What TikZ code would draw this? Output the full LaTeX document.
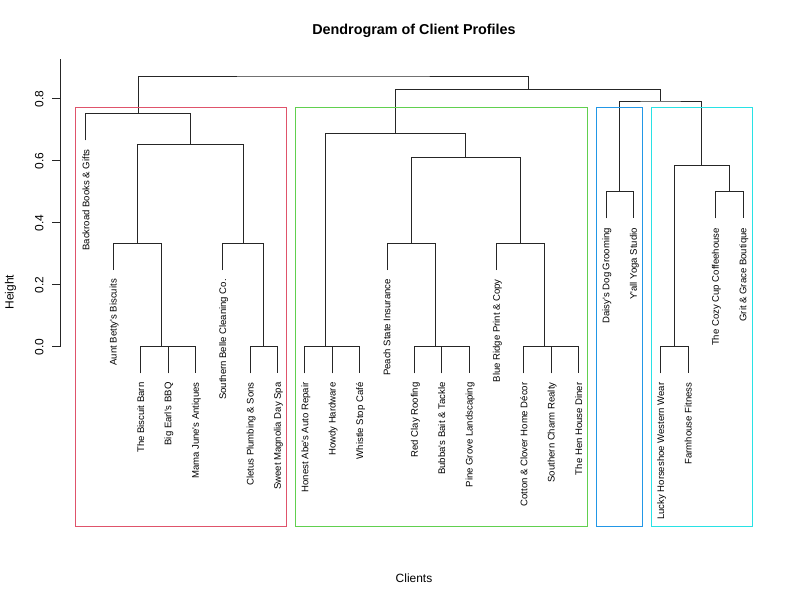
\documentclass[tikz,border=0pt]{standalone}
\usepackage{fontspec}
\setmainfont{Liberation Sans}
\newcommand\aq{\textquotesingle}
\definecolor{rred}{HTML}{DF536B}
\definecolor{rgreen}{HTML}{61D04F}
\definecolor{rblue}{HTML}{2297E6}
\definecolor{rcyan}{HTML}{28E2E5}
\begin{document}
\begin{tikzpicture}[x=1bp,y=-1bp,
  branch/.style={draw=black!85,line width=0.8bp},
  leaflab/.style={rotate=90,anchor=east,inner sep=0pt,text height=6.9bp,text depth=0pt,font=\fontsize{9.6}{10}\selectfont},
  ticklab/.style={rotate=90,anchor=base,inner sep=0pt,font=\fontsize{12}{14}\selectfont},
  axlab/.style={inner sep=0pt,anchor=base,font=\fontsize{12}{14}\selectfont},
  clusterbox/.style={line width=0.8bp}]
\useasboundingbox (0,0) rectangle (800,600);
\fill[white] (0,0) rectangle (800,600);

% title and axis labels
\node[axlab,font=\fontsize{14.4}{16}\selectfont\bfseries] (title) at (414,35) {Dendrogram of Client Profiles};
\node[axlab] (xlab) at (414,582.3) {Clients};
\node[axlab,rotate=90] (ylab) at (13.5,292) {Height};

% y axis
\coordinate (axtop) at (60,59.3);
\coordinate (axbot) at (60,346.7);
\draw[branch] (axtop) -- (axbot);
\foreach \k/\v/\yy in {0/0.0/346.7,2/0.2/284.7,4/0.4/222.7,6/0.6/160.7,8/0.8/98.7}{
  \coordinate (tick\k) at (60,\yy);
  \coordinate (tickl\k) at (52,\yy);
  \draw[branch] (tick\k) -- (tickl\k);
  \node[ticklab] (tk\k) at (43.3,\yy) {\v};
}

% leaf ends
\coordinate (l1) at (85.8,140.3);
\coordinate (l2) at (113.18,270);
\coordinate (l3) at (140.56,373.3);
\coordinate (l4) at (167.94,373.3);
\coordinate (l5) at (195.32,373.3);
\coordinate (l6) at (222.7,270);
\coordinate (l7) at (250.08,373.3);
\coordinate (l8) at (277.46,373.3);
\coordinate (l9) at (304.84,373.3);
\coordinate (l10) at (332.22,373.3);
\coordinate (l11) at (359.6,373.3);
\coordinate (l12) at (386.98,270);
\coordinate (l13) at (414.36,373.3);
\coordinate (l14) at (441.74,373.3);
\coordinate (l15) at (469.12,373.3);
\coordinate (l16) at (496.5,270);
\coordinate (l17) at (523.88,373.3);
\coordinate (l18) at (551.26,373.3);
\coordinate (l19) at (578.64,373.3);
\coordinate (l20) at (606.02,218.3);
\coordinate (l21) at (633.4,218.3);
\coordinate (l22) at (660.78,373.3);
\coordinate (l23) at (688.16,373.3);
\coordinate (l24) at (715.54,218.3);
\coordinate (l25) at (742.92,218.3);

% leaf labels
\node[leaflab] (n1) at (85.8,149.3) {Backroad Books \& Gifts};
\node[leaflab] (n2) at (113.18,279) {Aunt Betty\aq s Biscuits};
\node[leaflab] (n3) at (140.56,382.3) {The Biscuit Barn};
\node[leaflab] (n4) at (167.94,382.3) {Big Earl\aq s BBQ};
\node[leaflab] (n5) at (195.32,382.3) {Mama June\aq s Antiques};
\node[leaflab] (n6) at (222.7,279) {Southern Belle Cleaning Co.};
\node[leaflab] (n7) at (250.08,382.3) {Cletus Plumbing \& Sons};
\node[leaflab] (n8) at (277.46,382.3) {Sweet Magnolia Day Spa};
\node[leaflab] (n9) at (304.84,382.3) {Honest Abe\aq s Auto Repair};
\node[leaflab] (n10) at (332.22,382.3) {Howdy Hardware};
\node[leaflab] (n11) at (359.6,382.3) {Whistle Stop Café};
\node[leaflab] (n12) at (386.98,279) {Peach State Insurance};
\node[leaflab] (n13) at (414.36,382.3) {Red Clay Roofing};
\node[leaflab] (n14) at (441.74,382.3) {Bubba\aq s Bait \& Tackle};
\node[leaflab] (n15) at (469.12,382.3) {Pine Grove Landscaping};
\node[leaflab] (n16) at (496.5,279) {Blue Ridge Print \& Copy};
\node[leaflab] (n17) at (523.88,382.3) {Cotton \& Clover Home Décor};
\node[leaflab] (n18) at (551.26,382.3) {Southern Charm Realty};
\node[leaflab] (n19) at (578.64,382.3) {The Hen House Diner};
\node[leaflab] (n20) at (606.02,227.8) {Daisy\aq s Dog Grooming};
\node[leaflab] (n21) at (633.4,227.8) {Y\aq all Yoga Studio};
\node[leaflab] (n22) at (660.78,382.3) {Lucky Horseshoe Western Wear};
\node[leaflab] (n23) at (688.16,382.3) {Farmhouse Fitness};
\node[leaflab] (n24) at (715.54,227.8) {The Cozy Cup Coffeehouse};
\node[leaflab] (n25) at (742.92,227.8) {Grit \& Grace Boutique};

% merge points
\coordinate (mbm) at (181.63,346.7);
\coordinate (mb3) at (161.1,346.7);
\coordinate (mab) at (137.14,243.3);
\coordinate (mcs) at (263.77,346.7);
\coordinate (msb) at (243.24,243.3);
\coordinate (ma) at (190.19,144.3);
\coordinate (mred) at (138.0,113.7);
\coordinate (mhw) at (345.91,346.7);
\coordinate (mh3) at (325.38,346.7);
\coordinate (mbp) at (455.43,346.7);
\coordinate (mr3) at (434.9,346.7);
\coordinate (mps) at (410.94,243.3);
\coordinate (msh) at (564.95,346.7);
\coordinate (mc3) at (544.42,346.7);
\coordinate (mbr) at (520.46,243.3);
\coordinate (mgm) at (465.7,157.7);
\coordinate (mgreen) at (395.54,133.3);
\coordinate (mdy) at (619.71,191.7);
\coordinate (mlf) at (674.47,346.7);
\coordinate (mcg) at (729.23,191.7);
\coordinate (mcyan) at (701.85,165.7);
\coordinate (mbc) at (660.78,101);
\coordinate (mright) at (528.16,89.2);
\coordinate (mroot) at (333.08,76);

% branches
\draw[branch] (l4) |- (mbm) -| (l5);
\draw[branch] (l3) |- (mb3) -| (mbm);
\draw[branch] (l2) |- (mab) -| (mb3);
\draw[branch] (l7) |- (mcs) -| (l8);
\draw[branch] (l6) |- (msb) -| (mcs);
\draw[branch] (mab) |- (ma) -| (msb);
\draw[branch] (l1) |- (mred) -| (ma);
\draw[branch] (l10) |- (mhw) -| (l11);
\draw[branch] (l9) |- (mh3) -| (mhw);
\draw[branch] (l14) |- (mbp) -| (l15);
\draw[branch] (l13) |- (mr3) -| (mbp);
\draw[branch] (l12) |- (mps) -| (mr3);
\draw[branch] (l18) |- (msh) -| (l19);
\draw[branch] (l17) |- (mc3) -| (msh);
\draw[branch] (l16) |- (mbr) -| (mc3);
\draw[branch] (mps) |- (mgm) -| (mbr);
\draw[branch] (mh3) |- (mgreen) -| (mgm);
\draw[branch] (l20) |- (mdy) -| (l21);
\draw[branch] (l22) |- (mlf) -| (l23);
\draw[branch] (l24) |- (mcg) -| (l25);
\draw[branch] (mlf) |- (mcyan) -| (mcg);
\draw[branch] (mdy) |- (mbc) -| (mcyan);
\draw[branch] (mgreen) |- (mright) -| (mbc);
\draw[branch] (mred) |- (mroot) -| (mright);

% cluster rectangles
\draw[clusterbox,rred] (75.7,107.3) rectangle (286.7,526.7);
\draw[clusterbox,rgreen] (295.7,107.3) rectangle (587.7,526.7);
\draw[clusterbox,rblue] (596.7,107.5) rectangle (642.3,526.7);
\draw[clusterbox,rcyan] (651.7,107.5) rectangle (752.3,526.7);
\end{tikzpicture}
\end{document}
